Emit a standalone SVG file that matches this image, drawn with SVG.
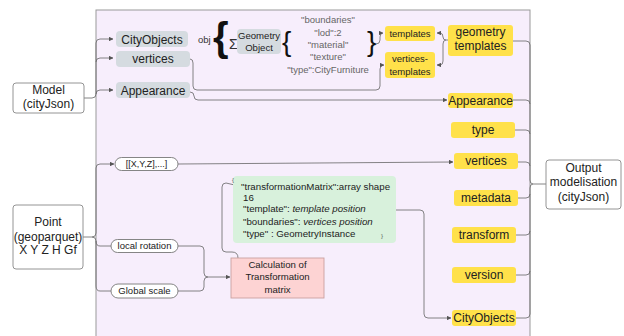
<svg xmlns="http://www.w3.org/2000/svg" width="624" height="336" viewBox="0 0 624 336">
<defs>
<marker id="arr" viewBox="0 0 6 6" refX="5.5" refY="3" markerWidth="4.5" markerHeight="4.5" orient="auto" markerUnits="userSpaceOnUse">
<path d="M0,0 L6,3 L0,6 z" fill="#555"/>
</marker>
<style>
text{font-family:"Liberation Sans",Arial,sans-serif;fill:#222;}
.c{text-anchor:middle;}
.gray{fill:#d5dbe0;}
.yel{fill:#ffe14a;}
.wbox{fill:#fff;stroke:#888;stroke-width:0.9;}
.pill{fill:#fff;stroke:#777;stroke-width:0.9;}
.con{fill:none;stroke:#666;stroke-width:0.8;}
.t12{font-size:12px;}
.t95{font-size:9.5px;}
.g{fill:#666;font-size:9.5px;}
.gt{font-size:9.7px;fill:#222;}
</style>
</defs>
<rect id="panel" x="96" y="10" width="434" height="332" fill="#f7eefc" stroke="#999" stroke-width="1"/>
<g id="connectors">
<path class="con" d="M84 98 L92 98 Q96 98 96 94 L96 94 Q96 90 100 90 L113 90" marker-end="url(#arr)"/>
<path class="con" d="M96 94 L96 62 Q96 58 100 58 L113 58" marker-end="url(#arr)"/>
<path class="con" d="M96 62 L96 43 Q96 39 100 39 L113 39" marker-end="url(#arr)"/>
<path class="con" d="M190 59 Q193 59 193 63 L193 86 Q193 90 197 90 L376 90 Q380 90 380 86 L380 69 Q380 65 384 65" marker-end="url(#arr)"/>
<path class="con" d="M190 92 Q194 92 194 96 Q194 100 198 100 L447 100" marker-end="url(#arr)"/>
<path class="con" d="M376 44 Q380 44 380 40 L380 37 Q380 33 383 33" marker-end="url(#arr)"/>
<path class="con" d="M448 40 L446 40 Q443 40 443 37 Q443 33 440 33 L437 33" marker-end="url(#arr)"/>
<path class="con" d="M446 40 Q443 40 443 44 L443 61 Q443 65 440 65 L437 65" marker-end="url(#arr)"/>
<path class="con" d="M83 237 L92 237 Q96 237 96 233 L96 168 Q96 164 100 164 L114 164" marker-end="url(#arr)"/>
<path class="con" d="M92 237 Q96 237 96 241 Q96 246 100 246 L111 246"/>
<path class="con" d="M96 241 L96 286 Q96 291 100 291 L111 291"/>
<path class="con" d="M178 164 L453 162" marker-end="url(#arr)"/>
<path class="con" d="M178 246 L200 246 Q204 246 204 250 L204 273 Q204 277 208 277 L230 277" marker-end="url(#arr)"/>
<path class="con" d="M178 291 L200 291 Q204 291 204 287 L204 281 Q204 277 208 277"/>
<path class="con" d="M238 258 Q238 252 232 252 L226 252 Q222 252 222 248 L222 187 Q222 183 226 183 L239 186" marker-end="url(#arr)"/>
<path class="con" d="M396 210 L420 210 Q424 210 424 214 L424 314 Q424 318 428 318 L451 318" marker-end="url(#arr)"/>
<path class="con" d="M513 41 L526 41 Q530 41 530 45 L530 180 Q530 184 533 184"/>
<path class="con" d="M513 100 L526 100 Q530 100 530 104"/>
<path class="con" d="M515 130 L526 130 Q530 130 530 134"/>
<path class="con" d="M518 162 L526 162 Q530 162 530 166"/>
<path class="con" d="M518 198 L526 198 Q530 198 530 194"/>
<path class="con" d="M516 235 L526 235 Q530 235 530 231"/>
<path class="con" d="M516 275 L526 275 Q530 275 530 271"/>
<path class="con" d="M516 318 L526 318 Q530 318 530 314 L530 188 Q530 184 533 184 L546 184"/>
</g>
<g id="model"><rect class="wbox" x="13" y="83" width="71" height="30" rx="3"/><text class="c t12" x="48.5" y="94">Model</text><text class="c t12" x="48.5" y="108">(cityJson)</text></g>
<g id="point"><rect class="wbox" x="13" y="205" width="70" height="64" rx="3"/><text class="c t12" x="48" y="226">Point</text><text class="c t12" x="48" y="241">(geoparquet)</text><text class="c t12" x="48" y="254">X Y Z H Gf</text></g>
<g id="output"><rect class="wbox" x="546" y="160" width="75" height="49" rx="3"/><text class="c t12" x="583.5" y="172">Output</text><text class="c t12" x="583.5" y="186">modelisation</text><text class="c t12" x="583.5" y="201">(cityJson)</text></g>
<g id="cityobjects-in"><rect class="gray" x="116" y="31" width="72" height="16" rx="4"/><text class="c t12" x="152" y="43.5">CityObjects</text></g>
<g id="vertices-in"><rect class="gray" x="116" y="51" width="74" height="16" rx="4"/><text class="c t12" x="153" y="63">vertices</text></g>
<g id="appearance-in"><rect class="gray" x="116" y="82" width="74" height="16" rx="4"/><text class="c t12" x="153" y="94.5">Appearance</text></g>
<g id="obj">
<text x="198" y="43" style="font-size:9.5px;fill:#333">obj</text>
<text x="213" y="51" style="font-size:40px;font-weight:bold;fill:#111">{</text>
<text x="229" y="49" style="font-size:14px;fill:#333">Σ</text>
</g>
<g id="geometry-object"><rect class="gray" x="237" y="29" width="44" height="25" rx="4"/><text class="c" x="259" y="38.5" style="font-size:9.6px">Geometry</text><text class="c" x="259" y="50.5" style="font-size:9.6px">Object</text></g>
<g id="attributes">
<text x="282" y="51" style="font-size:28px;fill:#111">{</text>
<text class="c g" x="328" y="23.4">"boundaries"</text>
<text class="c g" x="328" y="36.4">"lod":2</text>
<text class="c g" x="328" y="48.4">"material"</text>
<text class="c g" x="328" y="60.4">"texture"</text>
<text class="c g" x="328" y="73.4">"type":CityFurniture</text>
<text x="367" y="51" style="font-size:28px;fill:#111">}</text>
</g>
<g id="templates"><rect class="yel" x="385" y="26" width="50" height="15" rx="3"/><text class="c t95" x="410" y="36.8">templates</text></g>
<g id="vertices-templates"><rect class="yel" x="385" y="52" width="50" height="26" rx="3"/><text class="c t95" x="410" y="61.5">vertices-</text><text class="c t95" x="410" y="74.5">templates</text></g>
<g id="geometry-templates"><rect class="yel" x="448" y="25" width="65" height="31" rx="3"/><text class="c t12" x="480.5" y="36">geometry</text><text class="c t12" x="480.5" y="50">templates</text></g>
<g id="appearance-out"><rect class="yel" x="448" y="93" width="65" height="15" rx="3"/><text class="c t12" x="480.5" y="104.5">Appearance</text></g>
<g id="type"><rect class="yel" x="451" y="122" width="64" height="16" rx="3"/><text class="c t12" x="483" y="134.2">type</text></g>
<g id="vertices-out"><rect class="yel" x="454" y="153" width="64" height="16" rx="3"/><text class="c t12" x="486" y="165.2">vertices</text></g>
<g id="metadata"><rect class="yel" x="454" y="190" width="64" height="16" rx="3"/><text class="c t12" x="486" y="202.2">metadata</text></g>
<g id="transform"><rect class="yel" x="452" y="227" width="64" height="16" rx="3"/><text class="c t12" x="484" y="239.2">transform</text></g>
<g id="version"><rect class="yel" x="452" y="267" width="64" height="16" rx="3"/><text class="c t12" x="484" y="279.2">version</text></g>
<g id="cityobjects-out"><rect class="yel" x="452" y="310" width="64" height="16" rx="3"/><text class="c t12" x="484" y="322.2">CityObjects</text></g>
<g id="xyz"><rect class="pill" x="115" y="157.5" width="63" height="13" rx="6.5"/><text class="c" x="146.5" y="167.2" style="font-size:9px">[[X,Y,Z],...]</text></g>
<g id="local-rotation"><rect class="pill" x="111" y="239.5" width="67" height="13" rx="6.5"/><text class="c t95" x="144.5" y="249.4">local rotation</text></g>
<g id="global-scale"><rect class="pill" x="111" y="284" width="67" height="14" rx="7"/><text class="c t95" x="144.5" y="294.4">Global scale</text></g>
<g id="instance"><rect x="233" y="176" width="163" height="67" rx="4" fill="#d8f1dc"/>
<text x="232" y="182" style="font-size:6px;fill:#555">{</text>
<text class="gt" x="241" y="189.5">"transformationMatrix":array shape</text>
<text class="gt" x="243" y="200.5">16</text>
<text class="gt" x="243" y="212">"template": <tspan font-style="italic">template position</tspan></text>
<text class="gt" x="243" y="225">"boundaries": <tspan font-style="italic">vertices position</tspan></text>
<text class="gt" x="243" y="237">"type" : GeometryInstance</text>
<text x="381" y="238" style="font-size:6px;fill:#555">}</text>
</g>
<g id="calculation"><rect x="231" y="258" width="93" height="40" fill="#fdd3d3" stroke="#c9a0a0" stroke-width="0.9"/>
<text class="c" x="277.5" y="267.8" style="font-size:9.6px">Calculation of</text>
<text class="c" x="277.5" y="279.8" style="font-size:9.6px">Transformation</text>
<text class="c" x="277.5" y="292.8" style="font-size:9.6px">matrix</text></g>
</svg>
